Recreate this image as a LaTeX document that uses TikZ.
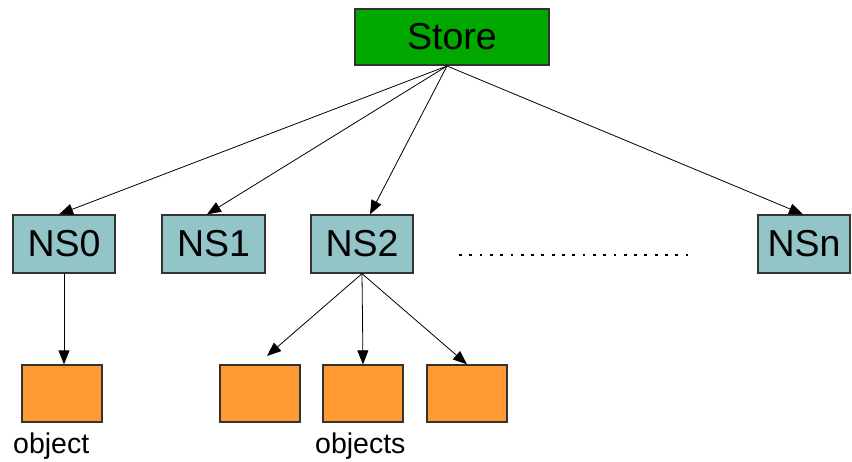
\documentclass[tikz,border=0pt]{standalone}
\usepackage{fontspec}
\setmainfont{Liberation Sans}
\usetikzlibrary{arrows.meta}
\definecolor{storegreen}{HTML}{00A800}
\definecolor{nsblue}{HTML}{93C4C8}
\definecolor{objorange}{HTML}{FF9933}
\definecolor{edge}{HTML}{333333}
\begin{document}
\begin{tikzpicture}[x=1pt,y=-1pt,
  box/.style={draw=edge,line width=1.3pt,inner sep=0pt,font=\fontsize{37.5}{40}\selectfont},
  nsbox/.style={box,fill=nsblue,minimum width=102pt,minimum height=58pt},
  objbox/.style={box,fill=objorange,minimum width=80pt,minimum height=57pt},
  arr/.style={line width=0.8pt,-{Triangle[length=14pt,width=11pt]}},
  lbl/.style={font=\fontsize{28.5}{32}\selectfont,inner sep=0pt}]
\useasboundingbox (0,0) rectangle (852,461);
\node[box,fill=storegreen,minimum width=194pt,minimum height=56pt] (store) at (452,37) {Store};
\node[nsbox] (ns0) at (64,244) {NS0};
\node[nsbox,minimum width=103pt] (ns1) at (213.5,244) {NS1};
\node[nsbox] (ns2) at (362,244) {NS2};
\node[nsbox,minimum width=92pt] (nsn) at (804,244) {NSn};
\coordinate (d0) at (459,255);
\coordinate (d1) at (690,255);
\draw[line width=2.8pt,dash pattern=on 2.8pt off 7.5pt] (d0) -- (d1);
\node[objbox] (o0) at (62,393.5) {};
\node[objbox] (o1) at (260,393.5) {};
\node[objbox] (o2) at (363,393.5) {};
\node[objbox] (o3) at (467,393.5) {};
\node[lbl,anchor=base west] (l0) at (13,453) {object};
\node[lbl,anchor=base west] (l1) at (315,453) {objects};
\coordinate (s) at (447,66);
\coordinate (t1) at (267,356);
\draw[arr] (s) -- ([xshift=-5pt]ns0.north);
\draw[arr] (s) -- ([xshift=-6.5pt]ns1.north);
\draw[arr] (s) -- ([xshift=8pt]ns2.north);
\draw[arr] (s) -- ([xshift=-1pt]nsn.north);
\draw[arr] (ns0.south) -- (ns0.south |- o0.north);
\draw[arr] (ns2.south) -- (t1);
\draw[arr] (ns2.south) -- (o2.north);
\draw[arr] (ns2.south) -- (o3.north);
\end{tikzpicture}
\end{document}
